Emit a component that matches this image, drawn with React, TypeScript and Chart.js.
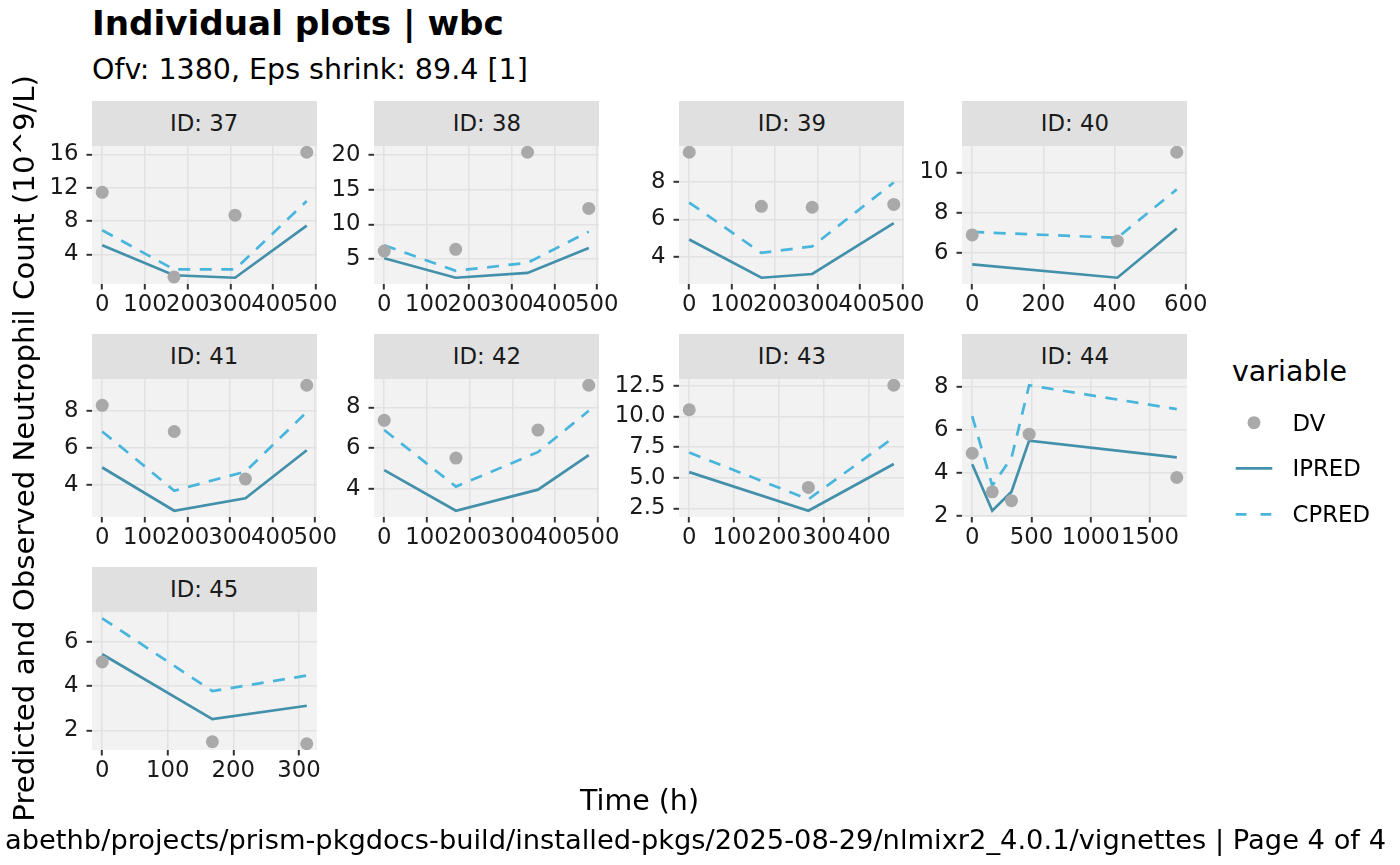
import { useEffect, useRef } from "react"
import { Chart, registerables, type Plugin } from "chart.js"
Chart.register(...registerables)

// one entry per subject panel, in facet order
const IDS = [37, 38, 39, 40, 41, 42, 43, 44, 45]
const TIME = [
  [0, 168, 311, 479],
  [0, 168, 337, 481],
  [0, 169, 288, 479],
  [0, 408, 575],
  [0, 169, 336, 480],
  [0, 168, 360, 479],
  [0, 265, 455],
  [0, 169, 331, 480, 1725],
  [0, 168, 312],
]
const DV = [
  [11.45, 1.3, 8.7, 16.25],
  [6.15, 6.4, 20.4, 12.3],
  [9.6, 6.7, 6.65, 6.8],
  [6.9, 6.6, 11.0],
  [8.29, 6.88, 4.32, 9.37],
  [7.37, 5.51, 6.89, 9.1],
  [10.55, 4.21, 12.55],
  [4.91, 3.11, 2.7, 5.8, 3.78],
  [5.08, 1.49, 1.4],
]
const IPRED = [
  [5.1, 1.5, 1.2, 7.45],
  [5.1, 2.3, 3.0, 6.6],
  [4.92, 2.87, 3.07, 5.8],
  [5.44, 4.78, 7.22],
  [4.94, 2.61, 3.28, 5.87],
  [4.91, 2.91, 3.95, 5.65],
  [5.46, 2.31, 6.12],
  [4.4, 2.23, 3.12, 5.5, 4.72],
  [5.43, 2.51, 3.11],
]
const CPRED = [
  [6.9, 2.2, 2.2, 10.4],
  [7.0, 3.3, 4.45, 8.95],
  [6.9, 4.2, 4.55, 7.98],
  [7.05, 6.76, 9.16],
  [6.88, 3.69, 4.72, 7.93],
  [6.89, 4.1, 5.8, 7.84],
  [7.06, 3.24, 8.29],
  [6.64, 3.4, 4.7, 8.08, 6.97],
  [7.05, 3.77, 4.47],
]
const Y_TICKS = [
  [4, 8, 12, 16],
  [5, 10, 15, 20],
  [4, 6, 8],
  [6, 8, 10],
  [4, 6, 8],
  [4, 6, 8],
  [2.5, 5, 7.5, 10, 12.5],
  [2, 4, 6, 8],
  [2, 4, 6],
]
const X_TICKS = [
  [0, 100, 200, 300, 400, 500],
  [0, 100, 200, 300, 400, 500],
  [0, 100, 200, 300, 400, 500],
  [0, 200, 400, 600],
  [0, 100, 200, 300, 400, 500],
  [0, 100, 200, 300, 400, 500],
  [0, 100, 200, 300, 400],
  [0, 500, 1000, 1500],
  [0, 100, 200, 300],
]
const SERIES = ["DV", "IPRED", "CPRED"]

const FONT = "'DejaVu Sans', sans-serif"
const C_DV = "#A9A9A9"
const C_IPRED = "#4390AB"
const C_CPRED = "#48B5DC"
const GRID = "#E2E2E2"
const DASH = [12, 9.5]

const COL_LEFT = [91.7, 374.3, 679.3, 962.3]
const ROW_TOP = [101, 334.3, 567.4]
const PANEL_W = 225
const STRIP_H = 44.7
const PLOT_H = 138
const AXW = 70
const PADR = 35
const PADT = 14
const AXH = 44

const panelBg: Plugin = {
  id: "panelBg",
  beforeDraw(chart) {
    const { ctx, chartArea: a } = chart
    ctx.save()
    ctx.fillStyle = "#F2F2F2"
    ctx.fillRect(a.left, a.top, a.right - a.left, a.bottom - a.top)
    ctx.restore()
  },
}

// ggplot-style continuous range: data range plus 5% on each side
function expand(vals: number[]): [number, number] {
  const lo = Math.min(...vals)
  const hi = Math.max(...vals)
  const pad = (hi - lo) * 0.05
  return [lo - pad, hi + pad]
}

// fixed axis box, and no extra label padding pushed into the plot area
function fixBox(s: any, size: number) {
  if (s.isHorizontal()) s.height = size
  else s.width = size
  s.paddingTop = 0
  s.paddingBottom = 0
  s.paddingLeft = 0
  s.paddingRight = 0
}

function Panel({ i }: { i: number }) {
  const ref = useRef<HTMLCanvasElement>(null)

  useEffect(() => {
    const canvas = ref.current
    if (!canvas) return
    const t = TIME[i]
    const xr = expand(t)
    const yr = expand([...DV[i], ...IPRED[i], ...CPRED[i]])
    const dec = Y_TICKS[i].some((v) => !Number.isInteger(v)) ? 1 : 0
    const tickFont = { family: FONT, size: 22.8 }

    const chart = new Chart(canvas, {
      type: "scatter",
      data: {
        datasets: [
          {
            label: SERIES[0],
            data: t.map((x, k) => ({ x, y: DV[i][k] })),
            showLine: false,
            pointRadius: 6.5,
            pointHoverRadius: 6.5,
            pointBackgroundColor: C_DV,
            pointBorderWidth: 0,
          },
          {
            label: SERIES[1],
            data: t.map((x, k) => ({ x, y: IPRED[i][k] })),
            showLine: true,
            borderColor: C_IPRED,
            borderWidth: 2.7,
            pointRadius: 0,
          },
          {
            label: SERIES[2],
            data: t.map((x, k) => ({ x, y: CPRED[i][k] })),
            showLine: true,
            borderColor: C_CPRED,
            borderWidth: 2.7,
            borderDash: DASH,
            pointRadius: 0,
          },
        ],
      },
      options: {
        responsive: false,
        animation: false,
        events: [],
        layout: { padding: { top: PADT, right: PADR, left: 0, bottom: 0 } },
        plugins: { legend: { display: false }, tooltip: { enabled: false } },
        scales: {
          x: {
            type: "linear",
            min: xr[0],
            max: xr[1],
            afterBuildTicks: (s) => { s.ticks = X_TICKS[i].map((value) => ({ value })) },
            afterFit: (s) => fixBox(s, AXH),
            border: { display: false },
            grid: { color: GRID, lineWidth: 1.6, tickLength: 5.5, tickColor: "#333333", tickWidth: 2 },
            ticks: {
              autoSkip: false,
              maxRotation: 0,
              minRotation: 0,
              padding: 2,
              color: "#1a1a1a",
              font: tickFont,
              callback: (v) => String(v),
            },
          },
          y: {
            type: "linear",
            min: yr[0],
            max: yr[1],
            afterBuildTicks: (s) => { s.ticks = Y_TICKS[i].map((value) => ({ value })) },
            afterFit: (s) => fixBox(s, AXW),
            border: { display: false },
            grid: { color: GRID, lineWidth: 1.6, tickLength: 5.5, tickColor: "#333333", tickWidth: 2 },
            ticks: {
              autoSkip: false,
              padding: 8,
              color: "#1a1a1a",
              font: tickFont,
              callback: (v) => Number(v).toFixed(dec),
            },
          },
        },
      },
      plugins: [panelBg],
    })
    return () => chart.destroy()
  }, [i])

  const left = COL_LEFT[i % 4]
  const top = ROW_TOP[Math.floor(i / 4)]
  const w = AXW + PANEL_W + PADR
  const h = PADT + PLOT_H + AXH

  return (
    <>
      <div
        style={{
          position: "absolute", left, top, width: PANEL_W, height: STRIP_H,
          background: "#E0E0E0", display: "flex", alignItems: "center", justifyContent: "center",
          fontSize: 22.8, lineHeight: 1, color: "#1a1a1a",
        }}
      >
        ID: {IDS[i]}
      </div>
      <canvas
        ref={ref}
        width={w}
        height={h}
        style={{ position: "absolute", left: left - AXW, top: top + STRIP_H - PADT, width: w, height: h }}
      />
    </>
  )
}

export default function App() {
  return (
    <div
      style={{
        position: "fixed", left: 0, top: 0, width: 1400, height: 865, overflow: "hidden",
        background: "#fff", fontFamily: FONT, color: "#000",
      }}
    >
      <div style={{ position: "absolute", left: 92, top: 6.1, fontSize: 34.2, lineHeight: 1, fontWeight: "bold", whiteSpace: "nowrap" }}>
        Individual plots | wbc
      </div>
      <div style={{ position: "absolute", left: 92, top: 56.4, fontSize: 28.5, lineHeight: 1, whiteSpace: "nowrap" }}>
        Ofv: 1380, Eps shrink: 89.4 [1]
      </div>

      {IDS.map((_, i) => <Panel key={i} i={i} />)}

      {/* y axis title, reads bottom to top */}
      <div
        style={{
          position: "absolute", left: 10, top: 875, width: 800, height: 29.2, fontSize: 29.2, lineHeight: 1,
          textAlign: "right", whiteSpace: "nowrap", transform: "rotate(-90deg)", transformOrigin: "0 0",
        }}
      >
        Predicted and Observed Neutrophil Count (10^9/L)
      </div>
      <div style={{ position: "absolute", left: 339.5, width: 600, top: 786.9, fontSize: 28.5, lineHeight: 1, textAlign: "center" }}>
        Time (h)
      </div>
      <div style={{ position: "absolute", right: 14, top: 825.9, fontSize: 27.3, lineHeight: 1, whiteSpace: "nowrap", textAlign: "right" }}>
        abethb/projects/prism-pkgdocs-build/installed-pkgs/2025-08-29/nlmixr2_4.0.1/vignettes | Page 4 of 4
      </div>

      {/* legend */}
      <div style={{ position: "absolute", left: 1232, top: 357.9, fontSize: 28.5, lineHeight: 1 }}>variable</div>
      <svg style={{ position: "absolute", left: 1230, top: 400 }} width={50} height={130}>
        <circle cx={24} cy={22.7} r={6.5} fill={C_DV} />
        <line x1={5.7} x2={42.3} y1={68.3} y2={68.3} stroke={C_IPRED} strokeWidth={2.7} />
        <line x1={5.7} x2={42.3} y1={114.3} y2={114.3} stroke={C_CPRED} strokeWidth={2.7} strokeDasharray="10.8 14" />
      </svg>
      {SERIES.map((s, k) => (
        <div key={s} style={{ position: "absolute", left: 1292.5, top: [411.7, 457.3, 503.3][k], fontSize: 22.8, lineHeight: 1 }}>
          {s}
        </div>
      ))}
    </div>
  )
}
